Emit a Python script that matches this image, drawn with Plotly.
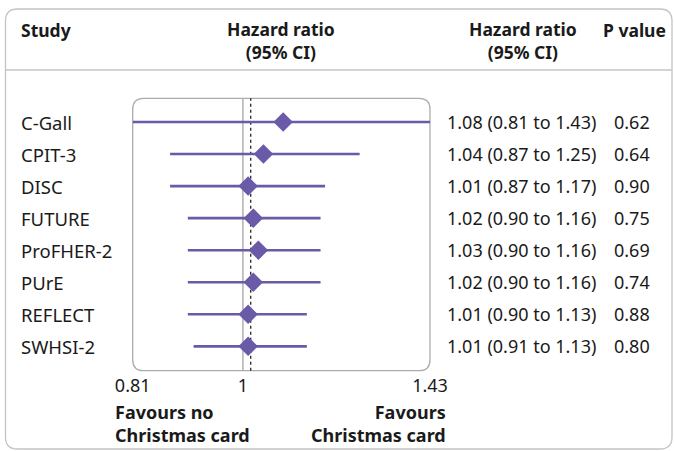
import math
import plotly.graph_objects as go

studies = ["C-Gall", "CPIT-3", "DISC", "FUTURE", "ProFHER-2", "PUrE", "REFLECT", "SWHSI-2"]
hr = [1.08, 1.04, 1.01, 1.02, 1.03, 1.02, 1.01, 1.01]
ci_low = [0.81, 0.87, 0.87, 0.90, 0.90, 0.90, 0.90, 0.91]
ci_high = [1.43, 1.25, 1.17, 1.16, 1.16, 1.16, 1.13, 1.13]
p_values = ["0.62", "0.64", "0.90", "0.75", "0.69", "0.74", "0.88", "0.80"]
null_value = 1.0
pooled_hr = 1.015
tick_vals = [0.81, 1.0, 1.43]
tick_text = ["0.81", "1", "1.43"]

W, H = 674, 451
PURPLE = "#6a5aa7"
TXT = "#1a1a1a"
FONT = "Noto Sans"

# plot area in pixels
px0, px1 = 132.7, 430.0
py0, py1 = 98.3, 370.7


def fx(px):
    return px / W


def fy(py):
    return 1 - py / H


ypos = list(range(len(studies)))

fig = go.Figure()
fig.add_trace(go.Scatter(
    x=hr, y=ypos, mode="markers",
    marker=dict(symbol="diamond", size=15, color=PURPLE, line=dict(width=0)),
    error_x=dict(type="data", symmetric=False,
                 array=[h - m for h, m in zip(ci_high, hr)],
                 arrayminus=[m - l for m, l in zip(hr, ci_low)],
                 color=PURPLE, thickness=2.6, width=0),
    cliponaxis=False, showlegend=False, hoverinfo="skip",
))

row_h = (py1 - py0) / 8.5
top_pad = (122 - py0) / row_h
fig.update_layout(
    width=W, height=H, template="none",
    margin=dict(l=0, r=0, t=0, b=0),
    paper_bgcolor="white", plot_bgcolor="rgba(0,0,0,0)",
    font=dict(family=FONT, size=18, color=TXT),
    xaxis=dict(type="log", domain=[fx(px0), fx(px1)],
               range=[math.log10(tick_vals[0]), math.log10(tick_vals[-1])],
               tickvals=tick_vals, ticktext=tick_text, ticks="",
               showgrid=False, zeroline=False, showline=False,
               tickfont=dict(family=FONT, size=18, color=TXT),
               ticklabelstandoff=2, automargin=False, fixedrange=True),
    yaxis=dict(domain=[fy(py1), fy(py0)],
               range=[len(studies) - 1 + (8.5 - 7 - top_pad), -top_pad],
               showticklabels=False, showgrid=False, zeroline=False,
               showline=False, automargin=False, fixedrange=True),
)


def rounded(x0, x1, y0, y1, rx, ry):
    return (f"M {x0+rx},{y1} L {x1-rx},{y1} Q {x1},{y1} {x1},{y1-ry} "
            f"L {x1},{y0+ry} Q {x1},{y0} {x1-rx},{y0} L {x0+rx},{y0} "
            f"Q {x0},{y0} {x0},{y0+ry} L {x0},{y1-ry} Q {x0},{y1} {x0+rx},{y1} Z")


shapes = []
ox0, ox1, oy0, oy1, r = fx(5.5), fx(672), fy(449), fy(9), 12
shapes.append(dict(type="path", xref="paper", yref="paper",
                   path=rounded(ox0, ox1, oy0, oy1, r / W, r / H),
                   line=dict(color="#c4c4c4", width=1.3), layer="below"))
shapes.append(dict(type="line", xref="paper", yref="paper",
                   x0=ox0, x1=ox1, y0=fy(70), y1=fy(70),
                   line=dict(color="#c4c4c4", width=1.3)))
br = 11
shapes.append(dict(type="path", xref="x domain", yref="y domain",
                   path=rounded(0, 1, 0, 1, br / (px1 - px0), br / (py1 - py0)),
                   line=dict(color="#acacac", width=1.3), layer="below"))
shapes.append(dict(type="line", xref="x", yref="y domain", x0=null_value, x1=null_value,
                   y0=0, y1=1, line=dict(color="#b0b0b0", width=1.5), layer="below"))
shapes.append(dict(type="line", xref="x", yref="y domain", x0=pooled_hr, x1=pooled_hr,
                   y0=0, y1=1, line=dict(color="#222222", width=1.3, dash="3px,3px"),
                   layer="below"))
fig.update_layout(shapes=shapes)

ann = []
hdr_font = dict(family=FONT, size=17.5, color=TXT, weight="bold")


def txt(text, x, y, xa="left", font=None, align="left"):
    d = dict(text=text, x=fx(x), y=fy(y), xref="paper", yref="paper",
             xanchor=xa, yanchor="middle", showarrow=False, align=align)
    if font:
        d["font"] = font
    return d


ann.append(txt("Study", 19, 30, "left", hdr_font))
ann.append(txt("Hazard ratio<br>(95% CI)", 281, 40, "center", hdr_font, "center"))
ann.append(txt("Hazard ratio<br>(95% CI)", 523, 40, "center", hdr_font, "center"))
ann.append(txt("P value", 668, 30, "right", hdr_font))

for i, s in enumerate(studies):
    ann.append(dict(text=s, x=fx(19), y=ypos[i], xref="paper", yref="y",
                    xanchor="left", yanchor="middle", showarrow=False,
                    font=dict(size=18.5)))
    ann.append(dict(text=f"{hr[i]:.2f} ({ci_low[i]:.2f} to {ci_high[i]:.2f})",
                    x=fx(445), y=ypos[i], xref="paper", yref="y",
                    xanchor="left", yanchor="middle", showarrow=False))
    ann.append(dict(text=p_values[i], x=fx(612), y=ypos[i], xref="paper", yref="y",
                    xanchor="left", yanchor="middle", showarrow=False))

foot_font = dict(family=FONT, size=18, color=TXT, weight="bold")
ann.append(txt("Favours no<br>Christmas card", 113, 423, "left", foot_font, "left"))
ann.append(txt("Favours<br>Christmas card", 448, 423, "right", foot_font, "right"))
fig.update_layout(annotations=ann)

fig.write_html("out.html", config={"displayModeBar": False},
               post_script="document.body.style.margin='0';")
